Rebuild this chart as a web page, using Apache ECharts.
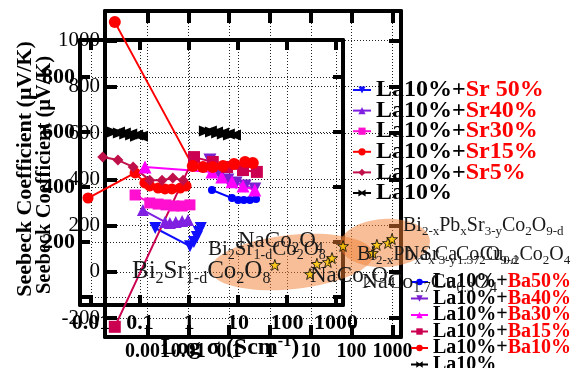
<!DOCTYPE html>
<html><head><meta charset="utf-8">
<script src="https://cdn.jsdelivr.net/npm/echarts@6/dist/echarts.min.js"></script>
<style>html,body{margin:0;padding:0;background:#fff}#c{width:580px;height:368px}</style>
</head><body><div id="c"></div>
<script>
// ---------- tick values / labels ----------
const xTicksA = [-3, -2, -1, 0, 1, 2, 3];
const xTickLabelsA = ['0.001', '0.01', '0.1', '1', '10', '100', '1000'];
const yTicksA = [-200, 0, 200, 400, 600, 800, 1000];
const xTicksB = [-2, -1, 0, 1, 2, 3];
const xTickLabelsB = ['0.01', '0.1', '1', '10', '100', '1000'];
const yTicksB = [0, 200, 400, 600, 800];
const yLabelsB = [200, 400, 600, 800];

// ---------- La10% + Sr series (log sigma, S in uV/K) ----------
const sr50LogS = [-0.69, 0.02, 0.10, 0.16, 0.20, 0.24];
const sr50S    = [251, 185, 200, 218, 236, 251];
const sr40LogS = [-0.94, -0.49, -0.39, -0.27, -0.14, -0.02];
const sr40S    = [316, 273, 269, 273, 276, 280];
const sr30LogS = [-1.10, -0.80, -0.63, -0.47, -0.31, -0.14, 0.02];
const sr30S    = [371, 342, 338, 335, 331, 331, 335];
const sr15LogS = [-2.06, -1.10, -0.90, -0.80, -0.63, -0.49, -0.35, -0.18, -0.06];
const sr15S    = [360, 451, 415, 404, 396, 393, 393, 396, 404];
const sr5LogS  = [-1.76, -1.45, -1.14, -0.80, -0.55, -0.33, -0.12];
const sr5S     = [509, 498, 473, 425, 425, 433, 425];
const la10SrLogS = [-1.49, -1.37, -1.24, -1.12, -1.02];
const la10SrS    = [600, 596, 593, 589, 585];

// ---------- La10% + Ba series ----------
const ba50LogS = [-1.42, -0.93, -0.78, -0.64, -0.49, -0.34];
const ba50S    = [354, 319, 311, 311, 311, 315];
const ba40LogS = [-1.47, -1.22, -1.03, -0.83, -0.61, -0.37];
const ba40S    = [484, 419, 397, 384, 371, 358];
const ba30LogS = [-3.06, -1.42, -1.18, -0.93, -0.66, -0.37];
const ba30S    = [453, 432, 410, 389, 371, 354];
const ba15LogS = [-3.80, -1.86, -1.40, -1.05, -0.66, -0.32];
const ba15S    = [-237, 496, 475, 453, 440, 432];
const ba10LogS = [-3.80, -1.89, -1.64, -1.40, -1.15, -0.88, -0.61, -0.42];
const ba10S    = [1079, 458, 453, 453, 458, 466, 475, 471];
const la10BaLogS = [-1.52, -1.37, -1.22, -1.08, -0.93];
const la10BaS    = [609, 604, 600, 596, 591];

// ---------- literature points (stars) ----------
const litLogS = [0.12, 0.98, 1.15, 1.42, 1.52, 1.79, 2.52, 2.62, 2.89, 2.99];
const litS    = [30, -9, 35, 43, 60, 112, 82, 117, 125, 142];

// ---------- highlighted regions (data coords of lower-left axes) ----------
const regionCenters = [[0.54, 43], [2.82, 125]];
const regionRadii   = [[2.0, 117], [1.1, 104]];

const FONT = 'Liberation Serif';
const zip = (a, b) => a.map((v, i) => [v, b[i]]);
const BOWTIE = 'path://M0,0L10,4L20,0L20,12L10,8L0,12Z';
const STAR = 'path://M50,0L61.8,35.1L98.9,35.5L69.1,57.6L79.4,93L50,71.5L20.6,93L30.9,57.6L1.1,35.5L38.2,35.1Z';

function axisBase(extra) {
  return Object.assign({
    type: 'value',
    axisLine: { show: true, onZero: false, lineStyle: { color: '#000', width: 4 } },
    splitLine: { show: false },
    axisLabel: { show: false }
  }, extra);
}
const dotted = { show: true, lineStyle: { type: [1, 2], color: '#222', width: 1 } };

const xAxis = [
  axisBase({ gridIndex: 0, position: 'bottom', min: -4.04, max: 3.21,
    axisTick: { show: true, inside: true, length: 12, lineStyle: { width: 4, color: '#000' }, customValues: xTicksA },
    axisLabel: { show: true, customValues: xTicksA, margin: 5,
      formatter: v => xTickLabelsA[xTicksA.indexOf(Math.round(v))],
      fontFamily: FONT, fontWeight: 'bold', fontSize: 20, color: '#000' },
    splitLine: dotted }),
  axisBase({ gridIndex: 0, position: 'top', min: -4.04, max: 3.21,
    axisTick: { show: true, inside: true, length: 12, lineStyle: { width: 4, color: '#000' }, customValues: xTicksA } }),
  axisBase({ gridIndex: 1, position: 'bottom', min: -2.224, max: 3.143,
    axisTick: { show: true, inside: true, length: 10, lineStyle: { width: 4, color: '#000' }, customValues: xTicksB },
    axisLabel: { show: true, customValues: xTicksB, margin: 7,
      formatter: v => xTickLabelsB[xTicksB.indexOf(Math.round(v))],
      fontFamily: FONT, fontWeight: 'bold', fontSize: 22, color: '#000' },
    splitLine: dotted }),
  axisBase({ gridIndex: 1, position: 'top', min: -2.224, max: 3.143,
    axisTick: { show: true, inside: true, length: 10, lineStyle: { width: 4, color: '#000' }, customValues: xTicksB } })
];
const yAxis = [
  axisBase({ gridIndex: 0, position: 'left', min: -281, max: 1127,
    axisTick: { show: true, inside: true, length: 12, lineStyle: { width: 4, color: '#000' }, customValues: yTicksA },
    axisLabel: { show: true, customValues: yTicksA, margin: 5, formatter: v => String(Math.round(v)),
      fontFamily: FONT, fontSize: 21, color: '#000' },
    splitLine: dotted }),
  axisBase({ gridIndex: 0, position: 'right', min: -281, max: 1127,
    axisTick: { show: true, inside: true, length: 12, lineStyle: { width: 4, color: '#000' }, customValues: yTicksA } }),
  axisBase({ gridIndex: 1, position: 'left', min: -29, max: 934.5,
    axisTick: { show: true, inside: true, length: 10, lineStyle: { width: 4, color: '#000' }, customValues: yTicksB },
    axisLabel: { show: true, customValues: yLabelsB, margin: 5, formatter: v => String(Math.round(v)),
      fontFamily: FONT, fontWeight: 'bold', fontSize: 22, color: '#000' },
    splitLine: dotted }),
  axisBase({ gridIndex: 1, position: 'right', min: -29, max: 934.5,
    axisTick: { show: true, inside: true, length: 10, lineStyle: { width: 4, color: '#000' }, customValues: yTicksB } })
];

function lineSeries(name, xs, ys, color, symbol, size, rot, axis) {
  return {
    type: 'line', name, data: zip(xs, ys), xAxisIndex: axis, yAxisIndex: axis,
    symbol, symbolSize: size, symbolRotate: rot || 0,
    showAllSymbol: true,
    lineStyle: { color, width: 2 }, itemStyle: { color },
    z: 3
  };
}

const series = [
  lineSeries('La10%+Sr 50%', sr50LogS, sr50S, '#1010ff', 'triangle', 12, 180, 2),
  lineSeries('La10%+Sr40%', sr40LogS, sr40S, '#8020e0', 'triangle', 12, 0, 2),
  lineSeries('La10%+Sr30%', sr30LogS, sr30S, '#ff10d0', 'rect', 11, 0, 2),
  lineSeries('La10%+Sr15%', sr15LogS, sr15S, '#ff0000', 'circle', 11, 0, 2),
  lineSeries('La10%+Sr5%', sr5LogS, sr5S, '#c0104a', 'diamond', 11, 0, 2),
  lineSeries('La10%', la10SrLogS, la10SrS, '#000000', BOWTIE, [18, 11], 0, 2),
  lineSeries('La10%+Ba50%', ba50LogS, ba50S, '#0000ff', 'circle', 8, 0, 0),
  lineSeries('La10%+Ba40%', ba40LogS, ba40S, '#7a20d0', 'triangle', 13, 180, 0),
  lineSeries('La10%+Ba30%', ba30LogS, ba30S, '#ff00ff', 'triangle', 13, 0, 0),
  lineSeries('La10%+Ba15%', ba15LogS, ba15S, '#cc0050', 'rect', 12, 0, 0),
  lineSeries('La10%+Ba10%', ba10LogS, ba10S, '#ff0000', 'circle', 12, 0, 0),
  lineSeries('La10% ', la10BaLogS, la10BaS, '#000000', BOWTIE, [18, 11], 0, 0),
  { type: 'scatter', name: 'lit', data: zip(litLogS, litS), xAxisIndex: 0, yAxisIndex: 0,
    symbol: STAR, symbolSize: 11, z: 4,
    itemStyle: { color: '#ffcc00', borderColor: '#000', borderWidth: 1 } }
];

function legendFmt(name) {
  const t = name.trim();
  const i = t.indexOf('+');
  if (i < 0) return '{a|' + t + '}';
  return '{a|' + t.slice(0, i + 1) + '}{b|' + t.slice(i + 1) + '}';
}
function legendRich(F) {
  const base = { fontFamily: FONT, fontWeight: 'bold', fontSize: F };
  return { a: Object.assign({ color: '#000' }, base), b: Object.assign({ color: '#ff0000' }, base) };
}

const option = {
  animation: false,
  backgroundColor: '#fff',
  grid: [
    { left: 105, top: 11, width: 296, height: 326, outerBoundsMode: 'none' },
    { left: 80, top: 40, width: 263, height: 265, outerBoundsMode: 'none' }
  ],
  xAxis, yAxis,
  legend: [
    { orient: 'vertical', left: 352, top: 78, width: 220, height: 140, padding: 0, itemWidth: 18, itemHeight: 9, itemGap: -3.4,
      selectedMode: false, formatter: legendFmt,
      data: ['La10%+Sr 50%', 'La10%+Sr40%', 'La10%+Sr30%', 'La10%+Sr15%', 'La10%+Sr5%', 'La10%'],
      textStyle: { fontFamily: FONT, fontWeight: 'bold', fontSize: 24, rich: legendRich(24) } },
    { orient: 'vertical', left: 410, top: 272, width: 170, height: 120, padding: 0, itemWidth: 17, itemHeight: 8, itemGap: -3.5,
      selectedMode: false, formatter: legendFmt,
      data: ['La10%+Ba50%', 'La10%+Ba40%', 'La10%+Ba30%', 'La10%+Ba15%', 'La10%+Ba10%', 'La10% '],
      textStyle: { fontFamily: FONT, fontWeight: 'bold', fontSize: 20, rich: legendRich(20) } }
  ],
  series
};

const chart = echarts.init(document.getElementById('c'));
chart.setOption(option);

// ---------- chemical-formula text helpers ----------
function chem(s) {
  let out = '', buf = '', i = 0;
  while (i < s.length) {
    const c = s[i];
    if ((c === '_' || c === '^') && s[i + 1] === '{') {
      if (buf) { out += '{m|' + buf + '}'; buf = ''; }
      const j = s.indexOf('}', i);
      out += '{' + (c === '_' ? 's' : 'p') + '|' + s.slice(i + 2, j) + '}';
      i = j + 1;
    } else { buf += c; i++; }
  }
  if (buf) out += '{m|' + buf + '}';
  return out;
}
function chemRich(F, bold, color) {
  const w = bold ? 'bold' : 'normal';
  const sF = Math.round(F * 0.65);
  return {
    m: { fontSize: F, fontFamily: FONT, fontWeight: w, fill: color, color, lineHeight: Math.round(F * 1.2), verticalAlign: 'middle' },
    s: { fontSize: sF, fontFamily: FONT, fontWeight: w, fill: color, color, lineHeight: Math.round(F * 0.45), verticalAlign: 'bottom' },
    p: { fontSize: sF, fontFamily: FONT, fontWeight: w, fill: color, color, lineHeight: Math.round(F * 0.45), verticalAlign: 'top' }
  };
}
function chemText(t, x, base, F, bold, align, color) {
  color = color || '#1a1a1a';
  return { type: 'text', x, y: base - 0.94 * F, z: 100,
    style: { text: chem(t), rich: chemRich(F, bold, color), align: align || 'left', textAlign: align || 'left',
      verticalAlign: 'top', textVerticalAlign: 'top' } };
}

const annotations = [
  ['Bi_{2}Sr_{1-d}Co_{2}O_{8}', 132, 280, 25],
  ['Bi_{2}Sr_{1-d}Co_{2}O_{8}', 208, 257, 21],
  ['NaCo_{2}O_{4}', 238, 249, 23],
  ['NaCo_{2}O_{4}', 310, 284, 23],
  ['NaCo_{1.7}Cu_{0.3}O_{4}', 362, 290, 22],
  ['Bi_{2-x}Pb_{x}Sr_{3-y}Co_{2}O_{9-d}', 403, 233, 20],
  ['Bi_{2-x}Pb_{x}Sr_{3-y}Co_{2}O_{9-d}', 357, 262, 20],
  ['Na_{x}Ca_{1.37}Cu_{0.2}Co_{2}O_{4}', 405, 262, 20]
];

const elements = [];
regionCenters.forEach((c, k) => {
  const p = chart.convertToPixel({ xAxisIndex: 0, yAxisIndex: 0 }, c);
  const px = chart.convertToPixel({ xAxisIndex: 0, yAxisIndex: 0 }, [c[0] + regionRadii[k][0], c[1]]);
  const py = chart.convertToPixel({ xAxisIndex: 0, yAxisIndex: 0 }, [c[0], c[1] + regionRadii[k][1]]);
  elements.push({ type: 'ellipse', z: 1, x: p[0], y: p[1], rotation: k === 0 ? 0.1 : 0.05,
    shape: { cx: 0, cy: 0, rx: Math.abs(px[0] - p[0]), ry: Math.abs(py[1] - p[1]) },
    style: { fill: 'rgba(240,125,50,0.5)' } });
});
annotations.forEach(a => elements.push(chemText(a[0], a[1], a[2], a[3], false)));
elements.push({ type: 'text', x: 25, y: 169, rotation: Math.PI / 2, z: 100,
  style: { text: 'Seebeck Coefficient (μV/K)', font: 'bold 22px "Liberation Serif"', fill: '#000',
    align: 'center', textAlign: 'center', verticalAlign: 'middle', textVerticalAlign: 'middle' } });
elements.push({ type: 'text', x: 45, y: 175, rotation: Math.PI / 2, z: 100,
  style: { text: 'Seebeck Coefficient (μV/K)', font: 'bold 20.5px "Liberation Serif"', fill: '#000',
    align: 'center', textAlign: 'center', verticalAlign: 'middle', textVerticalAlign: 'middle' } });
elements.push(chemText('Log σ (Scm^{-1})', 230, 356, 24, true, 'center', '#000'));

chart.setOption({ graphic: { elements } });
</script></body></html>
